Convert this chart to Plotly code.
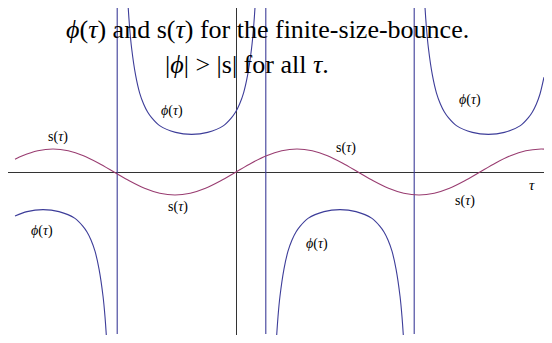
import plotly.graph_objects as go

# ---- data (tau and value units: arbitrary, no ticks shown) ----
s_tau = [-5.525, -5.3375, -4.956, -4.575, -4.194, -3.8125, -3.431, -3.05, -2.669, -2.2875,
         -1.906, -1.525, -1.144, -0.7625, -0.381, 0.0, 0.381, 0.7625, 1.144, 1.525, 1.906,
         2.2875, 2.669, 3.05, 3.431, 3.8125, 4.194, 4.575, 4.956, 5.3375, 5.719, 6.1,
         6.481, 6.8625, 7.244, 7.625, 7.7]
s_val = [0.32, 0.407, 0.531, 0.575, 0.531, 0.407, 0.220, 0.0, -0.220, -0.407,
         -0.531, -0.575, -0.531, -0.407, -0.220, 0.0, 0.220, 0.407, 0.531, 0.575, 0.531,
         0.407, 0.220, 0.0, -0.220, -0.407, -0.531, -0.575, -0.531, -0.407, -0.220, 0.0,
         0.220, 0.407, 0.531, 0.575, 0.573]

phi1_tau = [-5.525, -5.225, -4.825, -4.425, -4.025, -3.825, -3.725, -3.625, -3.525, -3.425,
            -3.325, -3.275, -3.225, -3.175]
phi1_val = [-1.10, -0.99, -0.94, -0.99, -1.16, -1.36, -1.50, -1.70, -1.98, -2.42,
            -3.10, -3.62, -4.36, -5.40]

phi2_tau = [-2.76, -2.71, -2.66, -2.61, -2.51, -2.41, -2.31, -2.21, -2.11, -1.91, -1.51,
            -1.11, -0.71, -0.31, -0.11, -0.01, 0.09, 0.19, 0.29, 0.39, 0.44, 0.49, 0.54]
phi2_val = [5.40, 4.36, 3.62, 3.10, 2.42, 1.98, 1.70, 1.50, 1.36, 1.16, 0.99,
            0.94, 0.99, 1.16, 1.36, 1.50, 1.70, 1.98, 2.42, 3.10, 3.62, 4.36, 5.40]

phi3_tau = [0.95, 1.0, 1.05, 1.1, 1.2, 1.3, 1.4, 1.5, 1.6, 1.8, 2.2,
            2.6, 3.0, 3.4, 3.6, 3.7, 3.8, 3.9, 4.0, 4.1, 4.15, 4.2, 4.25]
phi3_val = [-5.40, -4.36, -3.62, -3.10, -2.42, -1.98, -1.70, -1.50, -1.36, -1.16, -0.99,
            -0.94, -0.99, -1.16, -1.36, -1.50, -1.70, -1.98, -2.42, -3.10, -3.62, -4.36, -5.40]

phi4_tau = [4.66, 4.71, 4.76, 4.81, 4.91, 5.01, 5.11, 5.21, 5.31, 5.51, 5.91,
            6.31, 6.71, 7.11, 7.31, 7.41, 7.51, 7.6, 7.7]
phi4_val = [5.40, 4.36, 3.62, 3.10, 2.42, 1.98, 1.70, 1.50, 1.36, 1.16, 0.99,
            0.94, 0.99, 1.16, 1.36, 1.50, 1.70, 1.95, 2.37]

# jump segments drawn where phi changes branch
jump_tau = [-2.97, 0.745, 4.455]
jump_top = 4.125
jump_bottom = -4.05

title_lines = ["<i>ϕ</i>(<i>τ</i>) and s(<i>τ</i>) for the finite-size-bounce.",
               "|<i>ϕ</i>| &gt; |s| for all <i>τ</i>."]
curve_labels = ["s(<i>τ</i>)", "<i>ϕ</i>(<i>τ</i>)", "<i>ϕ</i>(<i>τ</i>)", "s(<i>τ</i>)",
                "s(<i>τ</i>)", "<i>ϕ</i>(<i>τ</i>)", "s(<i>τ</i>)", "<i>ϕ</i>(<i>τ</i>)"]
axis_label = "<i>τ</i>"

# ---- styling / placement ----
BLUE = "#3d3d99"
PURPLE = "#993d71"
AXIS = "#333333"
label_pos = [(-4.45, 0.875), (-4.85, -1.475), (-1.6, 1.525), (-1.45, -0.875),
             (2.75, 0.6), (2.025, -1.8), (5.725, -0.725), (5.85, 1.8)]
axis_label_pos = (7.4, -0.325)
title_pos = [(0.7875, 3.575), (0.275, 2.7)]

fig = go.Figure()

for tx, ty in [(phi1_tau, phi1_val), (phi2_tau, phi2_val), (phi3_tau, phi3_val), (phi4_tau, phi4_val)]:
    fig.add_trace(go.Scatter(x=tx, y=ty, mode="lines",
                             line=dict(color=BLUE, width=1.1, shape="spline", smoothing=0.8),
                             hoverinfo="skip", showlegend=False))

jx, jy = [], []
for t in jump_tau:
    jx += [t, t, None]
    jy += [jump_bottom, jump_top, None]
fig.add_trace(go.Scatter(x=jx, y=jy, mode="lines", line=dict(color=BLUE, width=1.1),
                         hoverinfo="skip", showlegend=False))

fig.add_trace(go.Scatter(x=s_tau, y=s_val, mode="lines",
                         line=dict(color=PURPLE, width=1.1, shape="spline", smoothing=0.8),
                         hoverinfo="skip", showlegend=False))

annotations = []
for txt, (x, y) in zip(title_lines, title_pos):
    annotations.append(dict(x=x, y=y, xref="x", yref="y", text=txt, showarrow=False,
                            xanchor="center", yanchor="middle",
                            font=dict(family="Liberation Serif", size=26, color="black")))
for txt, (x, y) in zip(curve_labels, label_pos):
    annotations.append(dict(x=x, y=y, xref="x", yref="y", text=txt, showarrow=False,
                            xanchor="center", yanchor="middle",
                            font=dict(family="Liberation Serif", size=14, color="black")))
annotations.append(dict(x=axis_label_pos[0], y=axis_label_pos[1], xref="x", yref="y",
                        text=axis_label, showarrow=False, xanchor="center", yanchor="middle",
                        font=dict(family="Liberation Serif", size=15, color="black")))

# the page body adds an 8px margin, so the figure is 8px smaller and ranges start 8px in
fig.update_layout(
    width=544, height=335,
    margin=dict(l=0, r=0, t=0, b=8),
    paper_bgcolor="white", plot_bgcolor="white",
    xaxis=dict(range=[-5.7, 7.9], showgrid=False, showticklabels=False, ticks="",
               zeroline=True, zerolinecolor=AXIS, zerolinewidth=1, showline=False),
    yaxis=dict(range=[-4.075, 4.1], showgrid=False, showticklabels=False, ticks="",
               zeroline=True, zerolinecolor=AXIS, zerolinewidth=1, showline=False),
    annotations=annotations,
)

fig.write_html("out.html")
